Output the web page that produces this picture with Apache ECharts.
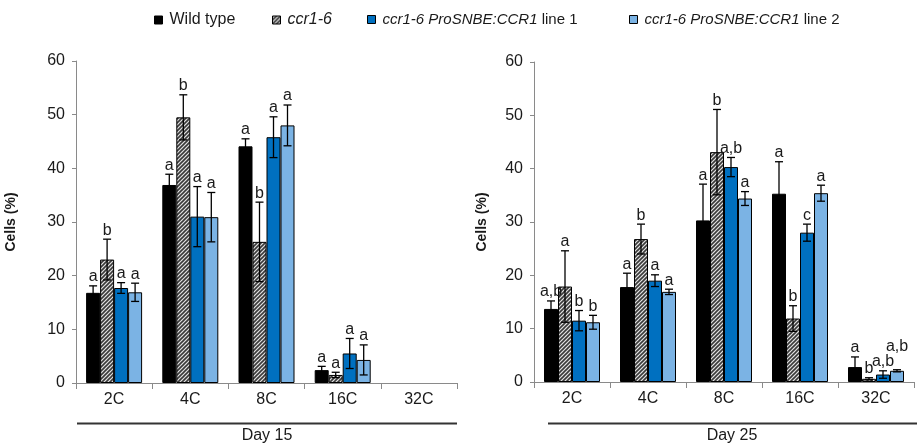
<!DOCTYPE html>
<html>
<head>
<meta charset="utf-8">
<script src="https://cdn.jsdelivr.net/npm/echarts@6/dist/echarts.min.js"></script>
<style>html,body{margin:0;padding:0;background:#fff}#c{width:917px;height:444px}</style>
</head>
<body>
<div id="c"></div>
<script>
// ---- data ----
const categories = ['2C', '4C', '8C', '16C', '32C'];
const seriesNames = ['Wild type', 'ccr1-6', 'ccr1-6 ProSNBE:CCR1 line 1', 'ccr1-6 ProSNBE:CCR1 line 2'];
const yTicks = [0, 10, 20, 30, 40, 50, 60];
const panelTitles = ['Day 15', 'Day 25'];

// Day 15
const d15Wt = [16.8, 36.9, 44.1, 2.4, null];
const d15Ccr = [23.0, 49.5, 26.3, 1.5, null];
const d15L1 = [17.7, 31.0, 45.8, 5.5, null];
const d15L2 = [16.9, 30.9, 48.0, 4.3, null];
const d15WtErr = [1.3, 2.0, 1.4, 0.7, null];
const d15CcrErr = [3.8, 4.2, 7.4, 0.5, null];
const d15L1Err = [1.0, 5.6, 3.8, 2.8, null];
const d15L2Err = [1.7, 4.6, 3.8, 2.8, null];
const d15WtLet = ['a', 'a', 'a', 'a', ''];
const d15CcrLet = ['b', 'b', 'b', 'a', ''];
const d15L1Let = ['a', 'a', 'a', 'a', ''];
const d15L2Let = ['a', 'a', 'a', 'a', ''];

// Day 25
const d25Wt = [13.7, 17.8, 30.3, 35.3, 2.8];
const d25Ccr = [17.9, 26.8, 43.1, 11.9, 0.6];
const d25L1 = [11.5, 19.0, 40.3, 28.0, 1.4];
const d25L2 = [11.2, 16.9, 34.4, 35.4, 2.1];
const d25WtErr = [1.5, 2.6, 6.8, 6.0, 1.9];
const d25CcrErr = [6.7, 2.8, 8.0, 2.4, 0.2];
const d25L1Err = [1.9, 1.1, 1.8, 1.6, 0.7];
const d25L2Err = [1.3, 0.5, 1.3, 1.5, 0.2];
const d25WtLet = ['a,b', 'a', 'a', 'a', 'a'];
const d25CcrLet = ['a', 'b', 'b', 'b', 'b'];
const d25L1Let = ['b', 'a', 'a,b', 'c', 'a,b'];
const d25L2Let = ['b', 'a', 'a', 'a', 'a,b'];

// ---- build ----
const panels = [
  { values: [d15Wt, d15Ccr, d15L1, d15L2], errs: [d15WtErr, d15CcrErr, d15L1Err, d15L2Err], lets: [d15WtLet, d15CcrLet, d15L1Let, d15L2Let] },
  { values: [d25Wt, d25Ccr, d25L1, d25L2], errs: [d25WtErr, d25CcrErr, d25L1Err, d25L2Err], lets: [d25WtLet, d25CcrLet, d25L1Let, d25L2Let] }
];

const FONT = "'Liberation Sans', Arial, sans-serif";
const TXT = '#1a1a1a';
const AX = '#8a8a8a';
const BAR_W = 14;

// hatch pattern
const pc = document.createElement('canvas');
pc.width = 4; pc.height = 4;
const pctx = pc.getContext('2d');
pctx.fillStyle = '#e2e2e2'; pctx.fillRect(0, 0, 4, 4);
pctx.strokeStyle = '#3a3a3a'; pctx.lineWidth = 1.6;
pctx.beginPath();
pctx.moveTo(-1, 5); pctx.lineTo(5, -1);
pctx.moveTo(-3, 3); pctx.lineTo(3, -3);
pctx.moveTo(1, 7); pctx.lineTo(7, 1);
pctx.stroke();

const colors = ['#000000', { image: pc, repeat: 'repeat' }, '#0070c0', '#7bb3e4'];

// label offset override (avoid overlap) : panel 1, 32C, line 2
const labelLift = { '1-4-3': 14 };

const grids = [
  { left: 76, top: 61, width: 381, height: 322 },
  { left: 534, top: 62, width: 380, height: 320 }
];
const nameGaps = [58, 45];

const xAxes = grids.map((g, gi) => ({
  type: 'category', gridIndex: gi, data: categories,
  axisLine: { lineStyle: { color: AX, width: 1 } },
  axisTick: { show: true, length: 6, lineStyle: { color: AX } },
  axisLabel: { color: TXT, fontSize: 16, fontFamily: FONT, margin: 9 }
}));
const yAxes = grids.map((g, gi) => ({
  type: 'value', gridIndex: gi, min: 0, max: 60, interval: 10,
  name: 'Cells (%)', nameLocation: 'middle', nameGap: nameGaps[gi],
  nameTextStyle: { color: TXT, fontSize: 14, fontWeight: 'bold', fontFamily: FONT },
  axisLine: { show: true, lineStyle: { color: AX, width: 1 } },
  axisTick: { show: true, length: 4, lineStyle: { color: AX } },
  axisLabel: { color: TXT, fontSize: 16, fontFamily: FONT, margin: 11, customValues: yTicks },
  splitLine: { show: false }
}));

const series = [];
panels.forEach((p, pi) => {
  p.values.forEach((vals, si) => {
    series.push({
      type: 'bar', name: seriesNames[si], xAxisIndex: pi, yAxisIndex: pi,
      data: vals.map(v => v === null ? '-' : v),
      barWidth: BAR_W, barGap: '0%',
      itemStyle: { color: colors[si], borderColor: '#000', borderWidth: 1 },
      emphasis: { disabled: true }, z: 2
    });
  });
  p.values.forEach((vals, si) => {
    const data = [];
    vals.forEach((v, ci) => { if (v !== null) data.push([ci, v, p.errs[si][ci]]); });
    series.push({
      type: 'custom', xAxisIndex: pi, yAxisIndex: pi, z: 5, silent: true,
      encode: { x: 0, y: 1 },
      data: data,
      renderItem: function (params, api) {
        const ci = api.value(0), v = api.value(1), e = api.value(2);
        const c = api.coord([ci, v]);
        const x = c[0] + (si - 1.5) * BAR_W;
        const yt = api.coord([ci, v + e])[1];
        const yb = api.coord([ci, Math.max(0, v - e)])[1];
        const cap = 4;
        const ls = { stroke: '#000', lineWidth: 1.3 };
        const lift = labelLift[pi + '-' + ci + '-' + si] || 0;
        return {
          type: 'group', children: [
            { type: 'line', shape: { x1: x, y1: yt, x2: x, y2: yb }, style: ls },
            { type: 'line', shape: { x1: x - cap, y1: yt, x2: x + cap, y2: yt }, style: ls },
            { type: 'line', shape: { x1: x - cap, y1: yb, x2: x + cap, y2: yb }, style: ls },
            { type: 'text', style: { text: p.lets[si][ci], x: x, y: yt - 1 - lift, align: 'center', verticalAlign: 'bottom', fontSize: 16, fontFamily: FONT, fill: TXT } }
          ]
        };
      }
    });
  });
});

const legendLefts = [154, 272, 367, 629];
const legendFmt = [
  '{n|Wild type}',
  '{i|ccr1-6}',
  '{j|ccr1-6 ProSNBE:CCR1}{m| line 1}',
  '{j|ccr1-6 ProSNBE:CCR1}{m| line 2}'
];
const legends = seriesNames.map((n, i) => ({
  data: [n], left: legendLefts[i], top: 12, padding: 0,
  icon: 'rect', itemWidth: 8, itemHeight: 8, itemGap: 0,
  itemStyle: { borderColor: '#000', borderWidth: 1 },
  selectedMode: false,
  formatter: () => legendFmt[i],
  textStyle: {
    color: TXT, fontSize: 16, fontFamily: FONT, padding: [0, 0, 0, 2],
    rich: {
      n: { fontSize: 16, fontFamily: FONT, color: TXT },
      i: { fontSize: 16, fontFamily: FONT, color: TXT, fontStyle: 'italic' },
      j: { fontSize: 15, fontFamily: FONT, color: TXT, fontStyle: 'italic' },
      m: { fontSize: 15, fontFamily: FONT, color: TXT }
    }
  }
}));

const lineStyle = { stroke: '#333', lineWidth: 2 };
const graphic = [
  { type: 'line', shape: { x1: 77, y1: 423.5, x2: 457, y2: 423.5 }, style: lineStyle, silent: true },
  { type: 'line', shape: { x1: 548, y1: 423.5, x2: 917, y2: 423.5 }, style: lineStyle, silent: true },
  { type: 'text', x: 267, y: 436, style: { text: panelTitles[0], align: 'center', verticalAlign: 'middle', fontSize: 16, fontFamily: FONT, fill: TXT } },
  { type: 'text', x: 732, y: 436, style: { text: panelTitles[1], align: 'center', verticalAlign: 'middle', fontSize: 16, fontFamily: FONT, fill: TXT } }
];

const chart = echarts.init(document.getElementById('c'), null, { renderer: 'canvas' });
chart.setOption({
  animation: false,
  backgroundColor: '#fff',
  legend: legends,
  grid: grids,
  xAxis: xAxes,
  yAxis: yAxes,
  series: series,
  graphic: graphic
});
</script>
</body>
</html>
